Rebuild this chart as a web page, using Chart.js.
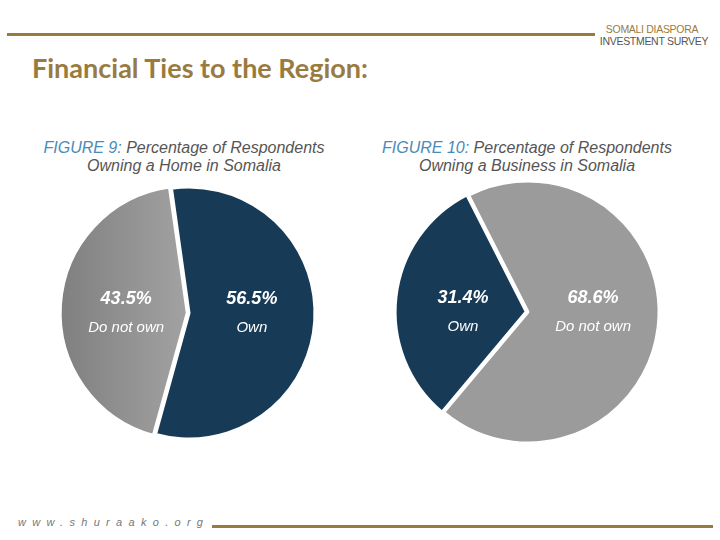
<!DOCTYPE html>
<html>
<head>
<meta charset="utf-8">
<script src="https://cdn.jsdelivr.net/npm/chart.js@4"></script>
<style>
  body { margin: 0; width: 720px; height: 540px; background: #fff; position: relative; overflow: hidden; font-family: "Liberation Sans", Arial, sans-serif; }
  .abs { position: absolute; }
  #topLine { left: 7px; top: 33px; width: 588px; height: 3px; background: #9a7b3f; }
  #bottomLine { left: 212px; top: 525px; width: 501px; height: 3px; background: #9a7b3f; }
  #logo1 { left: 596px; top: 23px; width: 112px; text-align: center; font-size: 10.5px; color: #9a7b3f; letter-spacing: -0.3px; }
  #logo2 { left: 598px; top: 35px; width: 112px; text-align: center; font-size: 10.5px; color: #555; letter-spacing: -0.3px; }
  #mainTitle { left: 32px; top: 51px; font-family: Lato, "Open Sans", sans-serif; font-weight: bold; font-size: 27px; color: #9a7b3f; }
  #site { left: 18px; top: 516px; font-size: 11px; font-style: italic; color: #777; letter-spacing: 6.3px; }
  .figTitle { width: 340px; text-align: center; font-size: 16px; font-style: italic; color: #555; line-height: 18px; }
  .figTitle b { color: #4a8ab8; font-weight: normal; }
  #fig9 { left: 14px; top: 139px; }
  #fig10 { left: 357px; top: 139px; }
  #box1 { left: 49px; top: 173px; width: 280px; height: 280px; }
  #box2 { left: 383px; top: 167px; width: 290px; height: 290px; }
</style>
</head>
<body>
<div class="abs" id="topLine"></div>
<div class="abs" id="logo1">SOMALI DIASPORA</div>
<div class="abs" id="logo2">INVESTMENT SURVEY</div>
<div class="abs" id="mainTitle">Financial Ties to the Region:</div>

<div class="abs figTitle" id="fig9"><b>FIGURE 9:</b> Percentage of Respondents<br>Owning a Home in Somalia</div>
<div class="abs figTitle" id="fig10"><b>FIGURE 10:</b> Percentage of Respondents<br>Owning a Business in Somalia</div>

<div class="abs" id="box1"><canvas id="homeChart"></canvas></div>
<div class="abs" id="box2"><canvas id="businessChart"></canvas></div>

<div class="abs" id="site">www.shuraako.org</div>
<div class="abs" id="bottomLine"></div>

<script>
// data
let homeLabels = ["Own", "Do not own"];
let homeValues = [56.5, 43.5];
let businessLabels = ["Own", "Do not own"];
let businessValues = [31.4, 68.6];

let navy = "#173a57";
let gray = "#9b9b9b";

// grey slice of figure 9 has a left-to-right gradient
function homeColor(context) {
  if (context.dataIndex === 0) {
    return navy;
  }
  let chart = context.chart;
  let area = chart.chartArea;
  if (!area) {
    return gray;
  }
  let g = chart.ctx.createLinearGradient(area.left, 0, area.left + area.width / 2, 0);
  g.addColorStop(0, "#7c7c7c");
  g.addColorStop(1, "#a2a2a2");
  return g;
}

// labels inside slices
let sliceLabels = {
  id: "sliceLabels",
  afterDatasetsDraw(chart) {
    let ctx = chart.ctx;
    let meta = chart.getDatasetMeta(0);
    let values = chart.data.datasets[0].data;
    meta.data.forEach((arc, i) => {
      let p = arc.getProps(["x", "y", "startAngle", "endAngle", "outerRadius"], true);
      let mid = (p.startAngle + p.endAngle) / 2;
      let r = p.outerRadius * 0.5;
      let x = p.x + Math.cos(mid) * r;
      let y = p.y;
      ctx.save();
      ctx.fillStyle = "#fff";
      ctx.textAlign = "center";
      ctx.textBaseline = "middle";
      ctx.font = "italic bold 18px 'Liberation Sans', Arial, sans-serif";
      ctx.fillText(values[i].toFixed(1) + "%", x, y - 14);
      ctx.font = "italic 15px 'Liberation Sans', Arial, sans-serif";
      ctx.fillText(chart.data.labels[i], x, y + 15);
      ctx.restore();
    });
  }
};

let commonOptions = {
  responsive: true,
  maintainAspectRatio: false,
  animation: false,
  plugins: {
    legend: { display: false },
    tooltip: { enabled: false }
  }
};

new Chart(document.getElementById("homeChart"), {
  type: "pie",
  data: {
    labels: homeLabels,
    datasets: [{
      data: homeValues,
      backgroundColor: homeColor,
      borderColor: "#fff",
      borderWidth: 3,
      offset: [0, 7]
    }]
  },
  options: Object.assign({}, commonOptions, { rotation: -8, radius: 126 }),
  plugins: [sliceLabels]
});

new Chart(document.getElementById("businessChart"), {
  type: "pie",
  data: {
    labels: businessLabels,
    datasets: [{
      data: businessValues,
      backgroundColor: [navy, gray],
      borderColor: "#fff",
      borderWidth: 3,
      offset: [7, 0]
    }]
  },
  options: Object.assign({}, commonOptions, { rotation: 220, radius: 131 }),
  plugins: [sliceLabels]
});
</script>
</body>
</html>
